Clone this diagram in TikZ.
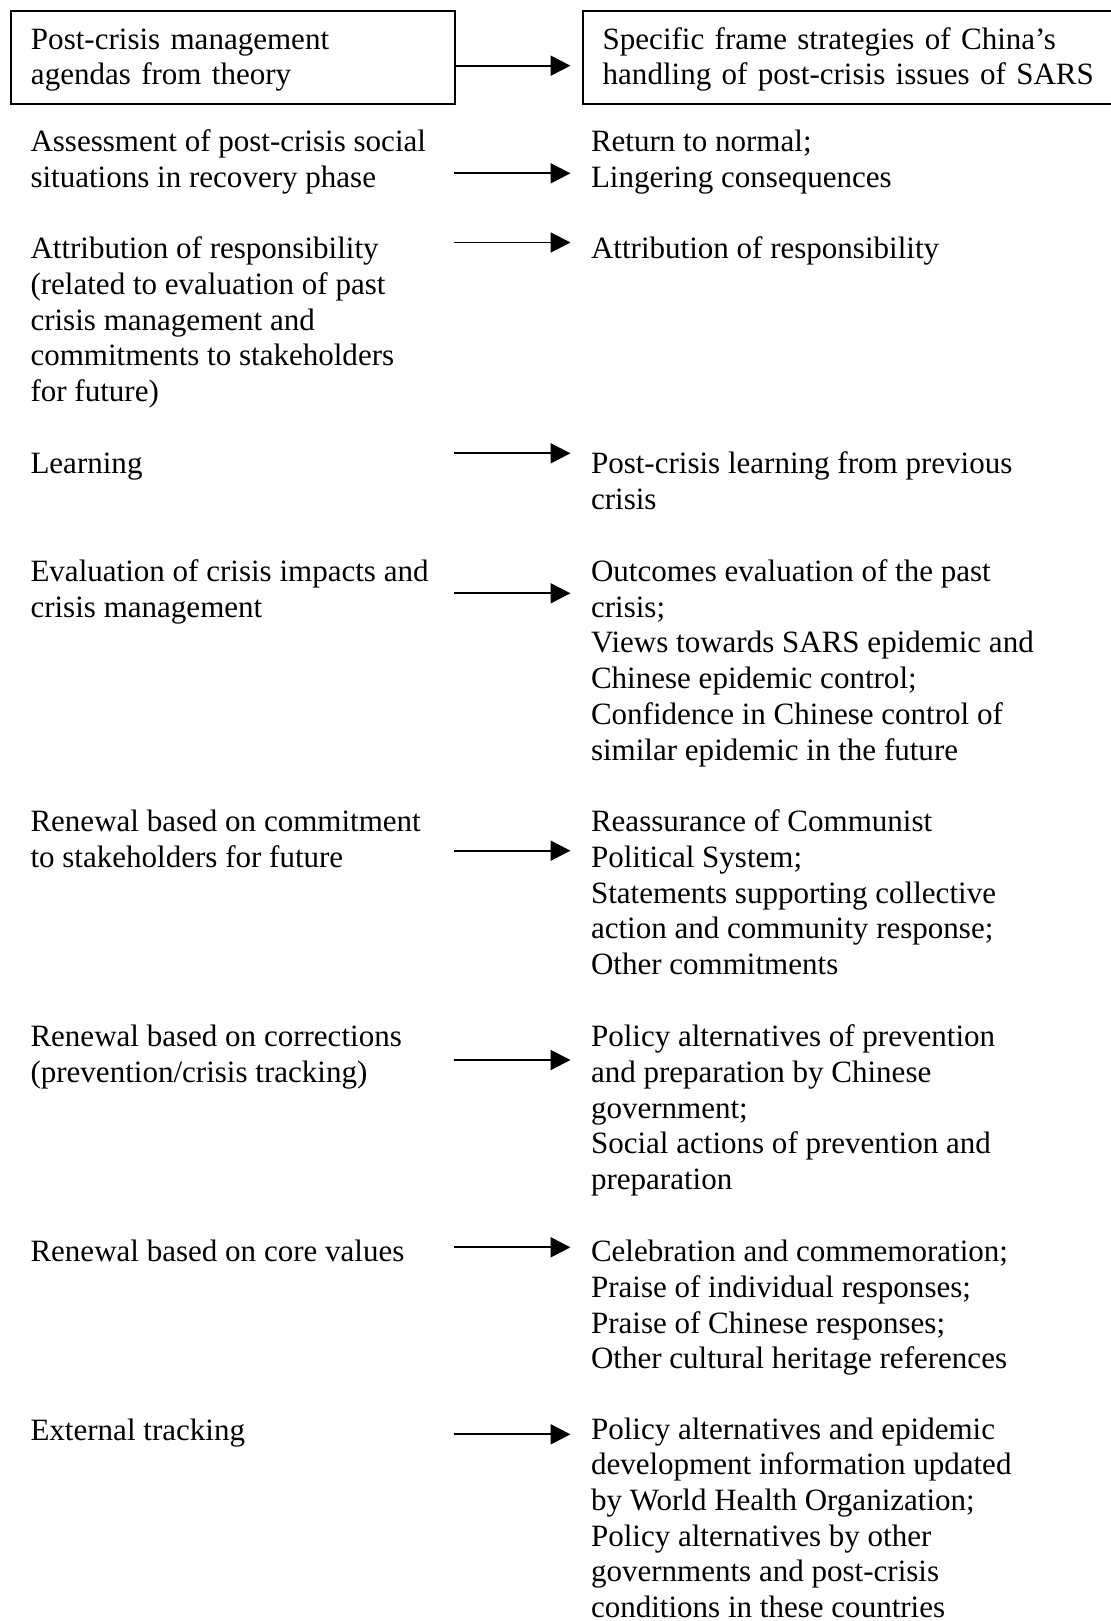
\documentclass[tikz,border=0pt]{standalone}
\usepackage{fontspec}
\setmainfont{Liberation Serif}
\usepackage{tikz}
\usetikzlibrary{arrows.meta, positioning}
\newlength\pxu
\setlength\pxu{0.3868pt}
\tikzset{
  agendatext/.style={anchor=base west, align=left, inner sep=0pt},
  headbox/.style={draw, line width=0.77pt, anchor=north west, align=left, inner xsep=20\pxu, inner ysep=0pt, minimum height=93.5\pxu},
  flow/.style={line width=0.77pt, -{Triangle[length=7.7pt, width=7.7pt]}}
}

\begin{document}
\begin{tikzpicture}[x=0.3868pt, y=-0.3868pt, every node/.style={font=\fontsize{12}{13.81}\selectfont}]
  \useasboundingbox (0,0) rectangle (1111,1621);
  \clip (0,0) rectangle (1111,1621);

  % Heading boxes (the right one runs past the page edge)
  \node[headbox, text width=404\pxu] (agenda) at (10,10) {\rule{0pt}{9.8pt}Post-crisis management\\agendas from theory};
  \node[headbox, text width=560\pxu] (frames) at (581.7,10) {\rule{0pt}{9.8pt}Specific frame strategies of China’s\\handling of post-crisis issues of SARS};
  \coordinate (frameend) at (570.5,65.7);
  \draw[flow] (agenda.east |- frameend) -- (frameend);

  % Agendas from theory (placed at the baseline of the last line)
  \node[agendatext] (assess) at (30,187.4) {Assessment of post-crisis social\\situations in recovery phase};
  \node[agendatext] (attrib) at (30,401.6) {Attribution of responsibility\\(related to evaluation of past\\crisis management and\\commitments to stakeholders\\for future)};
  \node[agendatext] (learn) at (30,473.5) {Learning};
  \node[agendatext] (evalu) at (30,617.3) {Evaluation of crisis impacts and\\crisis management};
  \node[agendatext] (renewcom) at (30,867.4) {Renewal based on commitment\\to stakeholders for future};
  \node[agendatext] (renewcor) at (30,1082.4) {Renewal based on corrections\\(prevention/crisis tracking)};
  \node[agendatext] (renewval) at (30,1261.6) {Renewal based on core values};
  \node[agendatext] (extern) at (30,1440) {External tracking};

  % Frame strategies of China
  \node[agendatext] (assessfr) at (590.5,187.4) {Return to normal;\\Lingering consequences};
  \node[agendatext] (attribfr) at (590.5,258.8) {Attribution of responsibility};
  \node[agendatext] (learnfr) at (590.5,509.2) {Post-crisis learning from previous\\crisis};
  \node[agendatext] (evalufr) at (590.5,760.1) {Outcomes evaluation of the past\\crisis;\\Views towards SARS epidemic and\\Chinese epidemic control;\\Confidence in Chinese control of\\similar epidemic in the future};
  \node[agendatext] (renewcomfr) at (590.5,974.5) {Reassurance of Communist\\Political System;\\Statements supporting collective\\action and community response;\\Other commitments};
  \node[agendatext] (renewcorfr) at (590.5,1189.5) {Policy alternatives of prevention\\and preparation by Chinese\\government;\\Social actions of prevention and\\preparation};
  \node[agendatext] (renewvalfr) at (590.5,1368.7) {Celebration and commemoration;\\Praise of individual responses;\\Praise of Chinese responses;\\Other cultural heritage references};
  \node[agendatext] (externfr) at (590.5,1617.5) {Policy alternatives and epidemic\\development information updated\\by World Health Organization;\\Policy alternatives by other\\governments and post-crisis\\conditions in these countries};

  % Arrows
  \coordinate (assessa) at (453.5,173.3);   \coordinate (assessb) at (570.5,173.3);
  \coordinate (attriba) at (453.5,242.5);   \coordinate (attribb) at (570.5,242.5);
  \coordinate (learna) at (453.5,453.3);    \coordinate (learnb) at (570.5,453.3);
  \coordinate (evalua) at (453.5,593.3);    \coordinate (evalub) at (570.5,593.3);
  \coordinate (renewcoma) at (453.5,850.7); \coordinate (renewcomb) at (570.5,850.7);
  \coordinate (renewcora) at (453.5,1060);  \coordinate (renewcorb) at (570.5,1060);
  \coordinate (renewvala) at (453.5,1247.3); \coordinate (renewvalb) at (570.5,1247.3);
  \coordinate (externa) at (453.5,1434.3);  \coordinate (externb) at (570.5,1434.3);
  \draw[flow] (assessa) -- (assessb);
  \draw[flow] (attriba) -- (attribb);
  \draw[flow] (learna) -- (learnb);
  \draw[flow] (evalua) -- (evalub);
  \draw[flow] (renewcoma) -- (renewcomb);
  \draw[flow] (renewcora) -- (renewcorb);
  \draw[flow] (renewvala) -- (renewvalb);
  \draw[flow] (externa) -- (externb);
\end{tikzpicture}
\end{document}
